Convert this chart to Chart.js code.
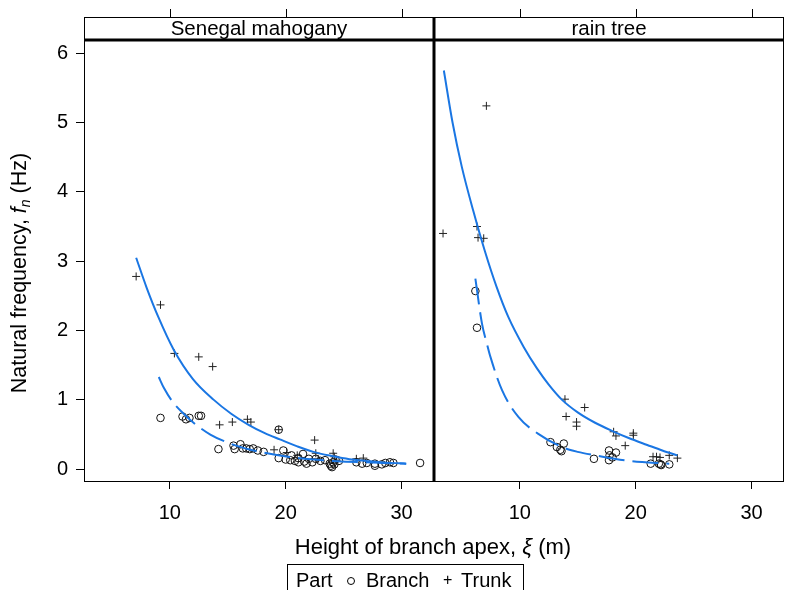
<!DOCTYPE html>
<html lang="en">
<head>
  <meta charset="UTF-8">
  <title>Natural frequency vs height of branch apex</title>
  <script src="https://cdn.jsdelivr.net/npm/chart.js"></script>
  <style>
    body { margin: 0; background: #fff; }
    #wrap { position: relative; width: 785px; height: 590px; overflow: hidden;
            font-family: "Liberation Sans", Arial, sans-serif; color: #000; }
    canvas { position: absolute; left: 0; top: 0; }
    .lbl { position: absolute; line-height: 24px; text-align: center; white-space: nowrap; }
    #ytitle { left: -178px; top: 258px; width: 400px; font-size: 21.5px; transform: rotate(-90deg); }
    #ytitle sub { font-size: 14px; vertical-align: -4px; }
    #xtitle { left: 183px; top: 535px; width: 500px; font-size: 22px; }
    #legend { position: absolute; left: 287px; top: 564px; width: 235px; height: 30px;
              border: 1.5px solid #000; font-size: 20px; }
    #legend span { position: absolute; top: 3px; line-height: 24px; }
    #legend .circ { top: 12px; width: 6px; height: 6px; border: 1px solid #000; border-radius: 50%; }
  </style>
</head>
<body>
<div id="wrap">
  <canvas id="leftPanel" width="785" height="590"></canvas>
  <canvas id="rightPanel" width="785" height="590"></canvas>
  <div id="ytitle" class="lbl">Natural frequency, <i>f</i><sub><i>n</i></sub> (Hz)</div>
  <div id="xtitle" class="lbl">Height of branch apex, <i>ξ</i> (m)</div>
  <div id="legend">
    <span style="left:8px">Part</span>
    <span class="circ" style="left:59px"></span>
    <span style="left:78px">Branch</span>
    <span style="left:155px;font-size:16px">+</span>
    <span style="left:173px">Trunk</span>
  </div>
</div>
<script>
  var xTicks = [10, 20, 30];
  var yTicks = [0, 1, 2, 3, 4, 5, 6];
  var panelNames = ['Senegal mahogany', 'rain tree'];

  // Senegal mahogany [height, frequency]
  var mahoganyBranch = [[9.2,0.74],[11.1,0.76],[11.4,0.72],[11.7,0.74],[12.5,0.77],[12.7,0.77],[14.2,0.29],
    [15.5,0.34],[15.6,0.29],[16.1,0.36],[16.3,0.30],[16.6,0.30],[16.9,0.29],[17.2,0.30],[17.6,0.27],[18.1,0.25],
    [19.4,0.57],[19.4,0.16],[19.8,0.27],[20.0,0.14],[20.4,0.13],[20.5,0.20],[20.8,0.12],[21.1,0.16],[21.1,0.10],
    [21.5,0.22],[21.6,0.11],[21.8,0.08],[22.0,0.15],[22.3,0.10],[22.6,0.15],[23.0,0.12],[23.4,0.13],[23.8,0.08],
    [23.9,0.05],[24.0,0.03],[24.1,0.10],[24.2,0.07],[24.3,0.14],[24.6,0.12],[26.1,0.10],[26.6,0.08],[27.0,0.09],
    [27.7,0.08],[27.7,0.05],[28.3,0.07],[28.6,0.09],[29.0,0.10],[29.3,0.09],[31.6,0.09]];
  var mahoganyTrunk = [[7.1,2.78],[9.2,2.37],[10.4,1.67],[12.5,1.62],[13.7,1.48],[14.3,0.64],[15.4,0.68],
    [16.7,0.72],[17.0,0.68],[19.4,0.57],[19.0,0.28],[20.1,0.24],[21.0,0.20],[22.5,0.42],[22.6,0.23],[22.8,0.15],
    [24.1,0.23],[24.2,0.18],[24.4,0.13],[26.1,0.15],[26.7,0.16]];
  var mahoganyBranchFit = [[9.05,1.33],[9.5,1.17],[10.3,0.96],[11.2,0.80],[12.2,0.65],[13.5,0.50],[14.9,0.39],
    [16.5,0.30],[18.1,0.24],[20.2,0.18],[22.4,0.14],[24.5,0.115],[26.7,0.10],[28.5,0.09],[30.4,0.08]];
  var mahoganyTrunkFit = [[7.1,3.05],[8.0,2.62],[9.0,2.20],[10.35,1.72],[12.0,1.30],[13.8,1.00],[15.3,0.80],
    [16.8,0.64],[18.2,0.52],[19.5,0.43],[21.0,0.33],[22.4,0.25],[24.0,0.19],[25.5,0.145],[27.0,0.12],
    [28.7,0.095],[30.4,0.08]];

  // rain tree
  var rainBranch = [[6.17,2.57],[6.31,2.04],[12.65,0.39],[13.2,0.32],[13.5,0.28],[13.6,0.26],[13.8,0.37],
    [16.4,0.15],[17.7,0.27],[18.3,0.24],[17.75,0.20],[17.7,0.13],[18.0,0.17],[21.3,0.08],[22.0,0.08],
    [22.15,0.07],[22.2,0.06],[22.9,0.07]];
  var rainTrunk = [[3.38,3.40],[6.31,3.50],[6.40,3.34],[6.89,3.33],[7.12,5.24],[13.9,1.01],[15.6,0.89],
    [14.0,0.76],[14.9,0.68],[14.9,0.62],[18.1,0.54],[18.3,0.48],[19.8,0.52],[19.8,0.49],[19.1,0.34],
    [21.5,0.18],[21.8,0.18],[22.1,0.17],[22.9,0.20],[23.6,0.16]];
  var rainBranchFit = [[6.17,2.75],[6.74,2.10],[7.18,1.80],[7.47,1.62],[8.47,1.14],[9.9,0.75],[11.6,0.51],
    [13.65,0.32],[15.0,0.25],[16.5,0.20],[19.4,0.12],[22.9,0.08]];
  var rainTrunkFit = [[3.45,5.75],[4.2,5.0],[5.0,4.36],[6.0,3.72],[7.0,3.14],[8.0,2.63],[9.0,2.20],
    [10.35,1.76],[11.5,1.45],[12.5,1.22],[13.65,1.00],[15.0,0.82],[16.5,0.67],[18.0,0.55],[19.4,0.45],
    [21.0,0.35],[22.3,0.27],[23.6,0.20]];

  var FONT = '"Liberation Sans", Arial, sans-serif';
  var BLUE = '#1a76e3';

  function pts(arr) { return arr.map(function (p) { return { x: p[0], y: p[1] }; }); }

  // strip, panel box, top ticks
  var framePlugin = {
    id: 'frame',
    afterDraw: function (chart, args, opts) {
      var ctx = chart.ctx, a = chart.chartArea, x = chart.scales.x;
      ctx.save();
      ctx.strokeStyle = '#000';
      ctx.lineWidth = 1;
      ctx.strokeRect(a.left + 0.5, 17.5, a.right - a.left - 1, a.bottom - 17);
      ctx.lineWidth = 3;
      ctx.beginPath(); ctx.moveTo(a.left, 40); ctx.lineTo(a.right, 40); ctx.stroke();
      if (opts.first) {
        ctx.beginPath(); ctx.moveTo(a.right, 17); ctx.lineTo(a.right, a.bottom + 1); ctx.stroke();
      }
      ctx.lineWidth = 1;
      xTicks.forEach(function (v) {
        var px = Math.round(x.getPixelForValue(v)) + 0.5;
        ctx.beginPath(); ctx.moveTo(px, 17); ctx.lineTo(px, 9); ctx.stroke();
      });
      ctx.fillStyle = '#000';
      ctx.font = '20.5px ' + FONT;
      ctx.textAlign = 'center';
      ctx.textBaseline = 'alphabetic';
      ctx.fillText(opts.label, (a.left + a.right) / 2, 35);
      ctx.restore();
    }
  };

  function makePanel(id, label, branch, trunk, branchFit, trunkFit, first) {
    var ctx = document.getElementById(id).getContext('2d');
    return new Chart(ctx, {
      type: 'scatter',
      data: {
        datasets: [
          { label: 'Branch fit', data: pts(branchFit), showLine: true, pointRadius: 0,
            borderColor: BLUE, borderWidth: 2, borderDash: [26, 8], cubicInterpolationMode: 'monotone' },
          { label: 'Trunk fit', data: pts(trunkFit), showLine: true, pointRadius: 0,
            borderColor: BLUE, borderWidth: 2, cubicInterpolationMode: 'monotone' },
          { label: 'Branch', data: pts(branch), pointStyle: 'circle', pointRadius: 3.8,
            borderColor: '#111', backgroundColor: 'rgba(0,0,0,0)', borderWidth: 1 },
          { label: 'Trunk', data: pts(trunk), pointStyle: 'cross', pointRadius: 4,
            borderColor: '#222', borderWidth: 1 }
        ]
      },
      options: {
        responsive: false,
        animation: false,
        layout: { autoPadding: false,
                  padding: { left: first ? 0 : 434, right: first ? 351 : 1, top: 40, bottom: 59 } },
        plugins: { legend: { display: false }, tooltip: { enabled: false }, frame: { label: label, first: first } },
        scales: {
          x: {
            type: 'linear', min: 2.6, max: 32.8,
            afterBuildTicks: function (s) { s.ticks = xTicks.map(function (v) { return { value: v }; }); },
            afterFit: function (s) { s.height = 50; s.paddingLeft = 0; s.paddingRight = 0; },
            grid: { drawOnChartArea: false, tickLength: 8, tickColor: '#000', tickWidth: 1 },
            border: { display: false },
            ticks: { color: '#000', font: { family: FONT, size: 20 }, padding: 12, maxRotation: 0, autoSkip: false }
          },
          y: {
            display: first,
            min: -0.17, max: 6.19,
            afterBuildTicks: function (s) { s.ticks = yTicks.map(function (v) { return { value: v }; }); },
            afterFit: function (s) { s.width = first ? 84 : 0; },
            grid: { drawOnChartArea: false, tickLength: 8, tickColor: '#000', tickWidth: 1 },
            border: { display: false },
            ticks: { color: '#000', font: { family: FONT, size: 20 }, padding: 8, autoSkip: false }
          }
        }
      },
      plugins: [framePlugin]
    });
  }

  makePanel('leftPanel', panelNames[0], mahoganyBranch, mahoganyTrunk, mahoganyBranchFit, mahoganyTrunkFit, true);
  makePanel('rightPanel', panelNames[1], rainBranch, rainTrunk, rainBranchFit, rainTrunkFit, false);
</script>
</body>
</html>
